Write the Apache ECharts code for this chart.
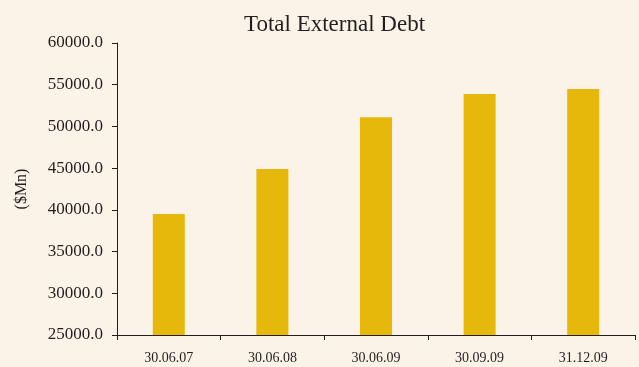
<!DOCTYPE html>
<html>
<head>
<meta charset="utf-8">
<script src="https://cdn.jsdelivr.net/npm/echarts@6/dist/echarts.min.js"></script>
<style>
  html, body { margin: 0; padding: 0; background: #fbf3e7; }
  #chart { width: 639px; height: 367px; }
</style>
</head>
<body>
<div id="chart"></div>
<script>
// data
const categories = ['30.06.07', '30.06.08', '30.06.09', '30.09.09', '31.12.09']
const debtValues = [39500, 44900, 51100, 53900, 54500]
const yMin = 25000
const yMax = 60000
const yStep = 5000

const serif = "'Liberation Serif', 'Times New Roman', serif"
const chart = echarts.init(document.getElementById('chart'))

const option = {
  backgroundColor: '#fbf3e7',
  animation: false,
  title: {
    text: 'Total External Debt',
    left: 239,
    top: 8,
    textStyle: { fontFamily: serif, fontSize: 23, fontWeight: 'normal', color: '#231f20' }
  },
  grid: { left: 117, right: 4, top: 43, bottom: 32, containLabel: false },
  xAxis: {
    type: 'category',
    data: categories,
    axisLine: { lineStyle: { color: '#231f20', width: 1 } },
    axisTick: { show: true, length: 5, lineStyle: { color: '#231f20' } },
    axisLabel: { fontFamily: serif, fontSize: 14, color: '#231f20', margin: 16 }
  },
  yAxis: {
    type: 'value',
    min: yMin,
    max: yMax,
    interval: yStep,
    name: '($Mn)',
    nameLocation: 'middle',
    nameGap: 87,
    nameRotate: 90,
    nameTextStyle: { fontFamily: serif, fontSize: 16, color: '#231f20' },
    axisLine: { show: true, lineStyle: { color: '#231f20', width: 1 } },
    axisTick: { show: true, length: 5, lineStyle: { color: '#231f20' } },
    splitLine: { show: false },
    axisLabel: {
      fontFamily: serif, fontSize: 17, color: '#231f20', margin: 14,
      formatter: v => v.toFixed(1)
    }
  },
  series: [{
    type: 'bar',
    data: debtValues,
    barWidth: 32,
    itemStyle: { color: '#e6b80c' }
  }]
}
chart.setOption(option)
</script>
</body>
</html>
